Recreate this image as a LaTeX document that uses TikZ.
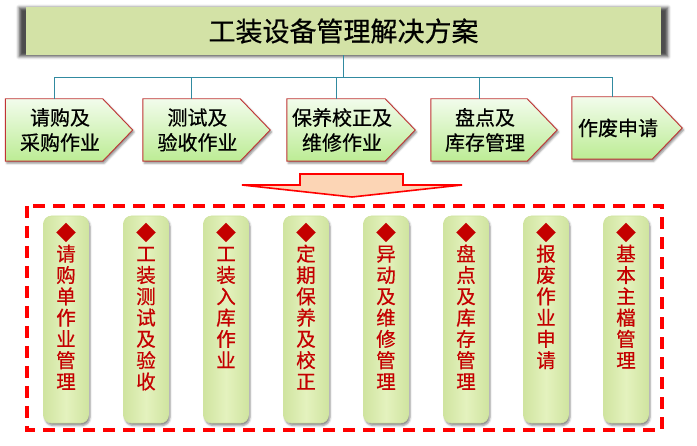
\documentclass[tikz,border=0pt]{standalone}
\usepackage{fontspec}
\setmainfont{Noto Sans CJK SC}
\newfontfamily\heavyfont{Noto Sans CJK SC}[FakeBold=0.6]
\usetikzlibrary{shadows.blur,calc}

\definecolor{titlegreen}{RGB}{211,226,166}
\definecolor{linkteal}{RGB}{49,138,160}
\definecolor{boxred}{RGB}{192,52,52}
\definecolor{chevtop}{RGB}{242,252,236}
\definecolor{chevbot}{RGB}{188,236,148}
\definecolor{pillmid}{RGB}{228,242,190}
\definecolor{pilledge}{RGB}{208,228,160}
\definecolor{textred}{RGB}{196,0,0}
\definecolor{arrowfill}{RGB}{252,213,181}

\tikzset{
  titlebox/.style={fill=titlegreen, minimum width=635pt, minimum height=48pt,
    font=\heavyfont\fontsize{27}{30}\selectfont,
    blur shadow={shadow xshift=0pt, shadow yshift=-1pt, shadow scale=1.022,
      shadow blur radius=3pt, shadow opacity=70}},
  link/.style={draw=linkteal, line width=1pt},
  chevbody/.style={minimum height=62pt, inner sep=0pt},
  chevtext/.style={align=center, font=\heavyfont\fontsize{20}{25}\selectfont},
  chevshape/.style={draw=boxred, line width=0.9pt, top color=chevtop, bottom color=chevbot,
    blur shadow={shadow xshift=1.5pt, shadow yshift=-2pt, shadow blur radius=2pt, shadow opacity=45}},
  pill/.style={rounded corners=8pt, minimum width=45pt, minimum height=207pt,
    left color=pilledge, right color=pilledge, middle color=pillmid, draw=pilledge, line width=0.6pt,
    blur shadow={shadow xshift=1.5pt, shadow yshift=-2.5pt, shadow blur radius=2pt, shadow opacity=45}},
  pilltext/.style={align=center, text=textred, font=\heavyfont\fontsize{19.5}{21.3}\selectfont, inner sep=0pt},
  bigarrow/.style={draw=red, line width=1.6pt, fill=arrowfill, line join=miter},
  groupframe/.style={draw=red, line width=3.2pt, dash pattern=on 12pt off 8pt}
}

\begin{document}
\begin{tikzpicture}[x=1pt, y=-1pt]
  \useasboundingbox (0,0) rectangle (697,446);

  % the title
  \node[titlebox] (title) at (343.5,31) {工装设备管理解决方案};

  % the steps
  \foreach \x/\y/\w/\txt [count=\i] in {
      54/130/97/{请购及\\采购作业},
      191.5/130/97/{测试及\\验收作业},
      336/130/98/{保养校正及\\维修作业},
      479/130/96/{盘点及\\库存管理},
      612/128/80/{作废申请}} {
    \node[chevbody, minimum width=\w pt] (c\i) at (\x,\y) {};
    \path[chevshape] (c\i.north west) -- (c\i.north east) -- ([xshift=30pt]c\i.east)
      -- (c\i.south east) -- (c\i.south west) -- cycle;
    \node[chevtext] (ct\i) at ([xshift=6pt]c\i.center) {\txt};
  }

  % the links
  \coordinate (hub) at ($(title.south)+(0,22)$);
  \draw[link] (title.south) -- (hub);
  \foreach \i in {1,...,5} {
    \draw[link] (hub) -| (c\i.north);
  }

  % the arrow
  \draw[bigarrow] (300,174) -- (403,174) -- (403,185) -- (462,185) -- (352,197)
    -- (242,185) -- (300,185) -- cycle;

  % the group
  \draw[groupframe] (27,206) rectangle (662,430);

  \foreach \txt [count=\i] in {
      {请\\购\\单\\作\\业\\管\\理},
      {工\\装\\测\\试\\及\\验\\收},
      {工\\装\\入\\库\\作\\业},
      {定\\期\\保\\养\\及\\校\\正},
      {异\\动\\及\\维\\修\\管\\理},
      {盘\\点\\及\\库\\存\\管\\理},
      {报\\废\\作\\业\\申\\请},
      {基\\本\\主\\檔\\管\\理}} {
    \node[pill] (p\i) at ({66+80*(\i-1)},319.5) {};
    \node[pilltext, anchor=north] (pt\i) at ([yshift=-7pt]p\i.north) {◆\\\txt};
  }
\end{tikzpicture}
\end{document}
